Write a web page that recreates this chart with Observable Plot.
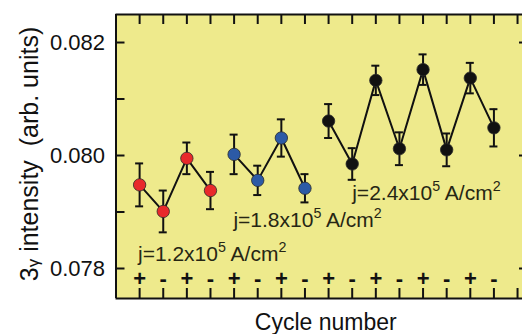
<!DOCTYPE html>
<html><head><meta charset="utf-8">
<script src="https://cdn.jsdelivr.net/npm/d3@7"></script>
<script src="https://cdn.jsdelivr.net/npm/@observablehq/plot@0.6"></script>
<style>
html,body{margin:0;padding:0;background:#fff;}
</style>
</head><body><div id="chart"></div>
<script>
// ---- data ----
const cycles = [1,2,3,4,5,6,7,8,9,10,11,12,13,14,15,16];
const groups = ["1.2","1.2","1.2","1.2","1.8","1.8","1.8","1.8","2.4","2.4","2.4","2.4","2.4","2.4","2.4","2.4"];
const intensity = [0.07948,0.07901,0.07995,0.07938, 0.08002,0.07956,0.08031,0.07942, 0.08061,0.07985,0.08133,0.08012,0.08152,0.08010,0.08137,0.08049];
const errors = [0.00038,0.00037,0.00028,0.00033, 0.00035,0.00026,0.00033,0.00025, 0.00030,0.00028,0.00026,0.00029,0.00027,0.00029,0.00027,0.00033];
const signs = ["+","-","+","-","+","-","+","-","+","-","+","-","+","-","+","-"];
const groupNames = ["1.2","1.8","2.4"];
const groupColors = ["#e8292b","#2c5aa6","#111111"];
const annLabels = ["j=1.2x10^{5} A/cm^{2}","j=1.8x10^{5} A/cm^{2}","j=2.4x10^{5} A/cm^{2}"];
const annX = [0.93, 4.97, 10.0];
const annY = [0.07826, 0.07885, 0.07933];
const yMajor = [0.078, 0.080, 0.082];
const yMinor = [0.078, 0.079, 0.080, 0.081, 0.082];
const xTicks = [1,2,3,4,5,6,7,8,9,10,11,12,13,14,15,16,17];
const xDomain = [0, 17.21];
const yDomain = [0.077469, 0.082496];
const xLabel = "Cycle number";
const yLabel = "3_{γ} intensity\u00a0\u00a0(arb. units)";

const data = cycles.map((c,i)=>({cycle:c, group:groups[i], intensity:intensity[i], error:errors[i]}));
const signData = signs.map((s,i)=>({cycle:cycles[i], sign:s}));
const annData = annLabels.map((l,i)=>({label:l, x:annX[i], y:annY[i]}));

const bg = "#eeea8c";
const ink = "#111";
const fmt = d3.format(".3f");

const chart = Plot.plot({
  width: 522, height: 334,
  marginLeft: 115.5, marginRight: 0, marginTop: 14, marginBottom: 36,
  x: {domain: xDomain, axis: null},
  y: {domain: yDomain, axis: null},
  color: {domain: groupNames, range: groupColors},
  style: {fontFamily: "'Liberation Sans', Arial, sans-serif", background: "#fff", color: ink, overflow: "visible"},
  marks: [
    Plot.frame({fill: bg, stroke: null}),
    // inward ticks
    Plot.ruleX(xTicks, {x: d => d, y1: yDomain[0], y2: yDomain[0], insetTop: -10, stroke: ink, strokeWidth: 2}),
    Plot.ruleX(xTicks, {x: d => d, y1: yDomain[1], y2: yDomain[1], insetBottom: -10, stroke: ink, strokeWidth: 2}),
    Plot.ruleY(yMinor, {y: d => d, x1: xDomain[0], x2: xDomain[0], insetRight: -9, stroke: ink, strokeWidth: 2}),
    Plot.ruleY(yMajor, {y: d => d, x1: xDomain[1], x2: xDomain[1], insetLeft: -3, stroke: ink, strokeWidth: 2}),
    // tick labels
    Plot.text(yMajor, {y: d => d, text: d => fmt(d), frameAnchor: "left", textAnchor: "end", lineAnchor: "middle", dx: -11, fontSize: 22, fill: ink}),
    // frame sides
    Plot.ruleX([xDomain[0]], {stroke: ink, strokeWidth: 2}),
    Plot.ruleY(yDomain, {stroke: ink, strokeWidth: 2}),
    // data
    Plot.line(data, {x: "cycle", y: "intensity", z: "group", stroke: ink, strokeWidth: 2}),
    Plot.ruleX(data, {x: "cycle", y1: d => d.intensity - d.error, y2: d => d.intensity + d.error, stroke: ink, strokeWidth: 2}),
    Plot.ruleY(data, {x1: "cycle", x2: "cycle", y: d => d.intensity + d.error, insetLeft: -4, insetRight: -4, stroke: ink, strokeWidth: 2}),
    Plot.ruleY(data, {x1: "cycle", x2: "cycle", y: d => d.intensity - d.error, insetLeft: -4, insetRight: -4, stroke: ink, strokeWidth: 2}),
    Plot.dot(data, {x: "cycle", y: "intensity", fill: "group", r: 6.2, stroke: "#2a2a2a", strokeWidth: 0.8}),
    Plot.text(signData, {x: "cycle", text: "sign", frameAnchor: "bottom", textAnchor: "middle", lineAnchor: "middle", dy: -20, fontSize: 22, fontWeight: "bold", fill: ink}),
    Plot.text(annData, {x: "x", y: "y", text: "label", textAnchor: "start", lineAnchor: "middle", fontSize: 21, fill: "#262614"}),
    Plot.text([xLabel], {text: d => d, frameAnchor: "bottom", textAnchor: "middle", lineAnchor: "middle", dx: 6.5, dy: 24, fontSize: 23, fill: ink}),
    Plot.text([yLabel], {text: d => d, frameAnchor: "left", textAnchor: "middle", lineAnchor: "middle", rotate: -90, dx: -86, dy: -2.5, fontSize: 25, fill: ink})
  ]
});

// rich text: ^{..} superscript, _{..} small lowered
function richify(svg) {
  svg.querySelectorAll("text").forEach(t => {
    const s = t.textContent;
    if (!/[\^_]\{/.test(s)) return;
    const fs = parseFloat(getComputedStyle(t).fontSize) || 16;
    while (t.firstChild) t.removeChild(t.firstChild);
    const ns = "http://www.w3.org/2000/svg";
    const re = /([\^_])\{([^}]*)\}/g;
    let last = 0, m, pending = 0;
    const add = (txt, size, shift) => {
      const sp = document.createElementNS(ns, "tspan");
      sp.textContent = txt;
      if (size) sp.setAttribute("font-size", size);
      const dy = shift - pending;
      if (dy) sp.setAttribute("dy", dy);
      pending = shift;
      t.appendChild(sp);
    };
    while ((m = re.exec(s))) {
      if (m.index > last) add(s.slice(last, m.index), null, 0);
      if (m[1] === "^") add(m[2], fs * 0.68, -fs * 0.42);
      else add(m[2], fs * 0.68, fs * 0.05);
      last = re.lastIndex;
    }
    if (last < s.length) add(s.slice(last), null, 0);
  });
}
document.getElementById("chart").appendChild(chart);
richify(chart);
</script>
</body></html>
